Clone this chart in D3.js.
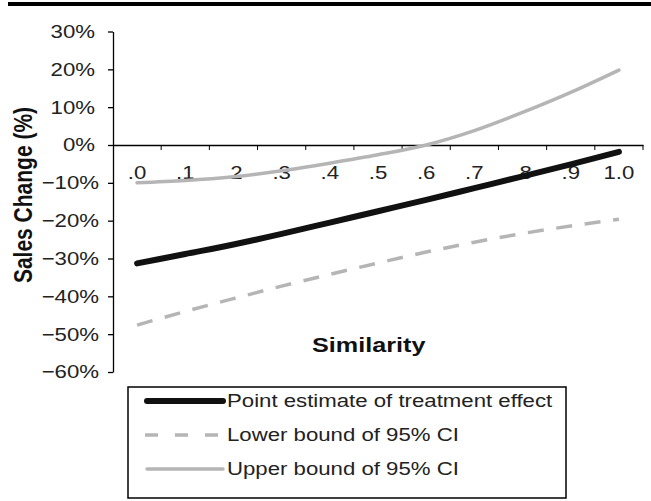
<!DOCTYPE html>
<html>
<head>
<meta charset="utf-8">
<script src="https://cdn.jsdelivr.net/npm/d3@7"></script>
<style>
  body { margin: 0; background: #fff; }
  svg { display: block; font-family: "Liberation Sans", Arial, sans-serif; }
</style>
</head>
<body>
<svg id="chart"></svg>
<script>
// Sales change by similarity, with 95% CI bounds.
const similarity = [".0", ".1", ".2", ".3", ".4", ".5", ".6", ".7", ".8", ".9", "1.0"];
const pointEstimate = [-31.3, -28.8, -26.3, -23.5, -20.5, -17.5, -14.5, -11.4, -8.3, -5.1, -1.8];
const lowerBound = [-47.6, -44.0, -40.6, -37.3, -34.2, -31.2, -28.3, -25.7, -23.4, -21.4, -19.6];
const upperBound = [-10.0, -9.4, -8.4, -6.8, -4.8, -2.6, 0.0, 3.8, 8.6, 13.9, 19.8];
const yTicks = [30, 20, 10, 0, -10, -20, -30, -40, -50, -60];
const legendLabels = ["Point estimate of treatment effect", "Lower bound of 95% CI", "Upper bound of 95% CI"];

const width = 651;
const height = 501;
const stretch = 1.2; // the original figure text is a bit wide

const svg = d3.select("#chart")
  .attr("width", width)
  .attr("height", height);

svg.append("rect")
  .attr("width", width).attr("height", height)
  .attr("fill", "#fff");

// thick rule at the top
svg.append("rect")
  .attr("x", 8).attr("y", 2)
  .attr("width", width - 8).attr("height", 4)
  .attr("fill", "#000");

const y = d3.scaleLinear()
  .domain([-60, 30])
  .range([372, 31.5]);

const x = d3.scaleBand()
  .domain(similarity)
  .range([113, 643])
  .padding(0);

// boundaries between the categories, for the x tick marks
const xEdge = d3.scaleLinear()
  .domain([0, similarity.length])
  .range(x.range());

// y axis (positive labels are padded a little, like the Excel format)
const yAxis = svg.append("g")
  .attr("transform", "translate(113,0)")
  .call(d3.axisLeft(y)
    .tickValues(yTicks)
    .tickSize(5)
    .tickSizeOuter(0)
    .tickFormat(d => (d < 0 ? "\u2212" + Math.abs(d) : d) + "%"));

yAxis.selectAll("text")
  .attr("x", d => (d < 0 ? -14 : -18) / stretch)
  .attr("transform", `scale(${stretch},1)`)
  .attr("font-size", 18.5)
  .attr("fill", "#222");

// x axis sits on 0%
const xAxisY = y(0);
const xAxis = svg.append("g")
  .attr("transform", `translate(0,${xAxisY})`)
  .call(d3.axisBottom(x).tickSize(0).tickPadding(21).tickSizeOuter(0));

xAxis.selectAll("text")
  .attr("transform", `scale(${stretch},1)`)
  .attr("font-size", 18.5)
  .attr("fill", "#222");

xAxis.selectAll(".edge")
  .data(d3.range(1, similarity.length + 1))
  .enter()
  .append("line")
  .attr("class", "edge")
  .attr("x1", d => xEdge(d)).attr("x2", d => xEdge(d))
  .attr("y1", 0).attr("y2", 5)
  .attr("stroke", "#000");

svg.selectAll(".domain, .tick line")
  .attr("stroke", "#000")
  .attr("stroke-width", 1.3);

// lines
const line = d3.line()
  .x((d, i) => x(similarity[i]) + x.bandwidth() / 2)
  .y(d => y(d))
  .curve(d3.curveMonotoneX);

svg.append("path")
  .datum(upperBound)
  .attr("d", line)
  .attr("fill", "none")
  .attr("stroke", "#b5b5b5")
  .attr("stroke-width", 3.5)
  .attr("stroke-linecap", "round");

svg.append("path")
  .datum(lowerBound)
  .attr("d", line)
  .attr("fill", "none")
  .attr("stroke", "#b5b5b5")
  .attr("stroke-width", 3.5)
  .attr("stroke-dasharray", "16,12.7");

svg.append("path")
  .datum(pointEstimate)
  .attr("d", line)
  .attr("fill", "none")
  .attr("stroke", "#111")
  .attr("stroke-width", 6)
  .attr("stroke-linecap", "round");

// axis titles
svg.append("text")
  .attr("transform", `translate(32,195) scale(${stretch},1) rotate(-90)`)
  .attr("text-anchor", "middle")
  .attr("font-size", 21)
  .attr("font-weight", "bold")
  .attr("fill", "#111")
  .text("Sales Change (%)");

svg.append("text")
  .attr("transform", `translate(312,352) scale(${stretch},1)`)
  .attr("font-size", 21)
  .attr("font-weight", "bold")
  .attr("fill", "#111")
  .text("Similarity");

// legend
const legend = svg.append("g");

legend.append("rect")
  .attr("x", 128).attr("y", 387)
  .attr("width", 438).attr("height", 111)
  .attr("fill", "none")
  .attr("stroke", "#000")
  .attr("stroke-width", 1.5);

const legendStyles = [
  { color: "#111", width: 6, dash: null, cap: "round" },
  { color: "#b5b5b5", width: 3.5, dash: "13,17", cap: "butt" },
  { color: "#b5b5b5", width: 3.5, dash: null, cap: "round" }
];

const legendY = d3.scalePoint()
  .domain(legendLabels)
  .range([401, 469]);

const rows = legend.selectAll(".row")
  .data(legendLabels)
  .enter()
  .append("g")
  .attr("class", "row")
  .attr("transform", d => `translate(0,${legendY(d)})`);

rows.append("line")
  .attr("x1", (d, i) => i === 1 ? 145 : 147)
  .attr("x2", (d, i) => i === 1 ? 225 : 223)
  .attr("y1", 0).attr("y2", 0)
  .attr("stroke", (d, i) => legendStyles[i].color)
  .attr("stroke-width", (d, i) => legendStyles[i].width)
  .attr("stroke-dasharray", (d, i) => legendStyles[i].dash)
  .attr("stroke-linecap", (d, i) => legendStyles[i].cap);

rows.append("text")
  .attr("transform", `translate(227,0) scale(${stretch},1)`)
  .attr("dy", "0.35em")
  .attr("font-size", 18.5)
  .attr("fill", "#222")
  .text(d => d);
</script>
</body>
</html>
